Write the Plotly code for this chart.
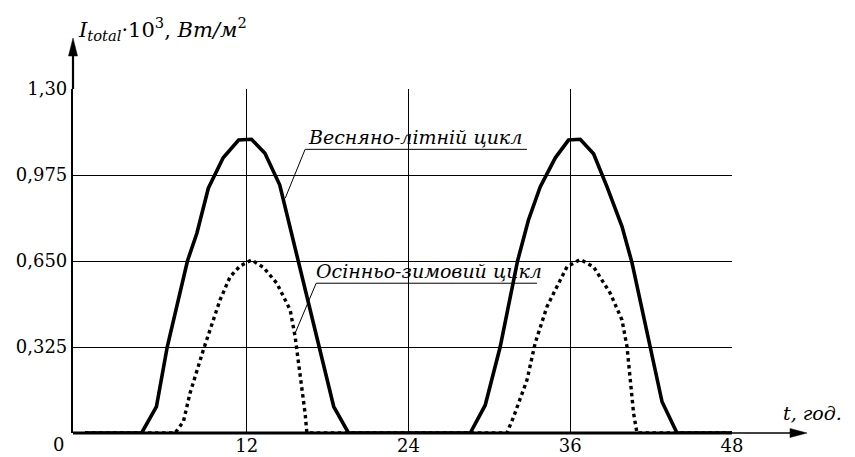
import plotly.graph_objects as go

# ---------------- data (hours, I_total*10^3 W/m^2) ----------------
summer_t = [0, 4.2, 5.3, 6.1, 7.6, 8.3, 9.15, 10.25, 11.4, 12.35, 13.35, 14.45, 18.45, 19.55,
            28.58, 29.69, 30.8, 32.09, 32.9, 33.77, 34.89, 35.87, 36.74, 37.73, 38.73, 39.84,
            40.58, 41.94, 42.81, 43.92, 48]
summer_i = [0, 0, 0.10, 0.325, 0.65, 0.755, 0.925, 1.04, 1.107, 1.11, 1.057, 0.937, 0.10, 0,
            0, 0.105, 0.325, 0.65, 0.805, 0.93, 1.04, 1.107, 1.11, 1.055, 0.93, 0.78,
            0.644, 0.325, 0.118, 0, 0]

winter_t = [0, 6.68, 7.3, 7.79, 8.78, 9.65, 10.02, 10.76, 11.5, 12.37, 13.23, 14.23, 15.22,
            15.59, 15.96, 16.33, 16.46,
            31.3, 31.79, 32.79, 33.4, 34.27, 35.01, 35.76, 36.74, 37.73, 38.97, 39.84, 40.21,
            40.45, 40.7, 40.95, 48]
winter_i = [0, 0, 0.043, 0.15, 0.314, 0.452, 0.503, 0.59, 0.631, 0.654, 0.626, 0.566, 0.465,
            0.364, 0.226, 0.074, 0,
            0, 0.06, 0.2, 0.34, 0.477, 0.553, 0.628, 0.656, 0.628, 0.528, 0.427, 0.326,
            0.2, 0.074, 0, 0]

x_ticks = [12, 24, 36, 48]
x_ticktext = ["12", "24", "36", "48"]
y_ticks = [0.325, 0.65, 0.975, 1.30]
y_ticktext = ["0,325", "0,650", "0,975", "1,30"]

summer_label = "Весняно-літній цикл"
winter_label = "Осінньо-зимовий цикл"
y_title = "<i>I</i><sub><i>total</i></sub>·10<sup>3</sup>, <i>Вт/м</i><sup>2</sup>"
x_title = "<i>t, год.</i>"

FONT = "DejaVu Serif"
W, H = 855, 457
ML, MR, MT, MB = 73, 123, 89, 24
PW, PH = W - ML - MR, H - MT - MB
XR = [-0.89, 48]
YR = [0, 1.30]

def px_x(p):  # pixel -> paper x
    return (p - ML) / PW

def px_y(p):  # pixel -> paper y
    return (H - MB - p) / PH

fig = go.Figure()
fig.add_trace(go.Scatter(x=summer_t, y=summer_i, mode="lines",
                         line=dict(color="black", width=3.6), showlegend=False))
fig.add_trace(go.Scatter(x=winter_t, y=winter_i, mode="lines",
                         line=dict(color="black", width=3.4, dash="3.5px,3.5px"),
                         showlegend=False))

shapes = []
shapes.append(dict(type="line", xref="paper", yref="paper", x0=0, x1=1, y0=0, y1=0,
                   line=dict(color="black", width=3)))
shapes.append(dict(type="line", xref="paper", yref="paper", x0=1, x1=px_x(792), y0=0, y1=0,
                   line=dict(color="black", width=1.6)))
shapes.append(dict(type="path", xref="paper", yref="paper",
                   path=f"M {px_x(807)} 0 L {px_x(790)} {4.5/PH} L {px_x(790)} {-4.5/PH} Z",
                   fillcolor="black", line=dict(color="black", width=0.5)))
shapes.append(dict(type="line", xref="paper", yref="paper", x0=0, x1=0, y0=1, y1=px_y(53),
                   line=dict(color="black", width=2.2)))
shapes.append(dict(type="path", xref="paper", yref="paper",
                   path=f"M 0 {px_y(38)} L {-4.5/PW} {px_y(56)} L {4.5/PW} {px_y(56)} Z",
                   fillcolor="black", line=dict(color="black", width=0.5)))
shapes.append(dict(type="line", xref="x", yref="y", x0=14.85, y0=0.887, x1=16.33, y1=1.072,
                   line=dict(color="black", width=1)))
shapes.append(dict(type="line", xref="x", yref="y", x0=16.33, y0=1.072, x1=32.79, y1=1.072,
                   line=dict(color="black", width=1)))
shapes.append(dict(type="line", xref="x", yref="y", x0=15.59, y0=0.377, x1=17.15, y1=0.566,
                   line=dict(color="black", width=1)))
shapes.append(dict(type="line", xref="x", yref="y", x0=17.15, y0=0.566, x1=33.53, y1=0.566,
                   line=dict(color="black", width=1)))

annotations = [
    dict(text="<i>" + summer_label + "</i>", x=24.5, y=1.072, xref="x", yref="y",
         xanchor="center", yanchor="bottom", showarrow=False,
         font=dict(family=FONT, size=19, color="black"), borderpad=0),
    dict(text="<i>" + winter_label + "</i>", x=25.5, y=0.566, xref="x", yref="y",
         xanchor="center", yanchor="bottom", showarrow=False,
         font=dict(family=FONT, size=19, color="black"), borderpad=0),
    dict(text=y_title, x=px_x(76), y=px_y(29), xref="paper", yref="paper",
         xanchor="left", yanchor="middle", showarrow=False,
         font=dict(family=FONT, size=21, color="black")),
    dict(text=x_title, x=px_x(781), y=px_y(413), xref="paper", yref="paper",
         xanchor="left", yanchor="middle", showarrow=False,
         font=dict(family=FONT, size=19, color="black")),
    dict(text="0", x=px_x(58), y=px_y(444), xref="paper", yref="paper",
         xanchor="center", yanchor="middle", showarrow=False,
         font=dict(family=FONT, size=18, color="black")),
]

fig.update_layout(
    width=W, height=H,
    margin=dict(l=ML, r=MR, t=MT, b=MB, pad=0, autoexpand=False),
    paper_bgcolor="white", plot_bgcolor="white",
    shapes=shapes, annotations=annotations,
    font=dict(family=FONT, size=18, color="black"),
)
fig.update_xaxes(range=XR, tickvals=x_ticks, ticktext=x_ticktext, showgrid=True,
                 gridcolor="black", gridwidth=1, zeroline=False, showline=False,
                 ticks="", tickfont=dict(family=FONT, size=18, color="black"),
                 ticklabelstandoff=0,
                 automargin=False, fixedrange=True)
fig.update_yaxes(range=YR, tickvals=y_ticks, ticktext=y_ticktext, showgrid=True,
                 gridcolor="black", gridwidth=1, zeroline=False, showline=True,
                 linecolor="black", linewidth=2.2, ticks="",
                 tickfont=dict(family=FONT, size=18, color="black"),
                 automargin=False, fixedrange=True)

fig.write_html("out.html", config={"displayModeBar": False})
